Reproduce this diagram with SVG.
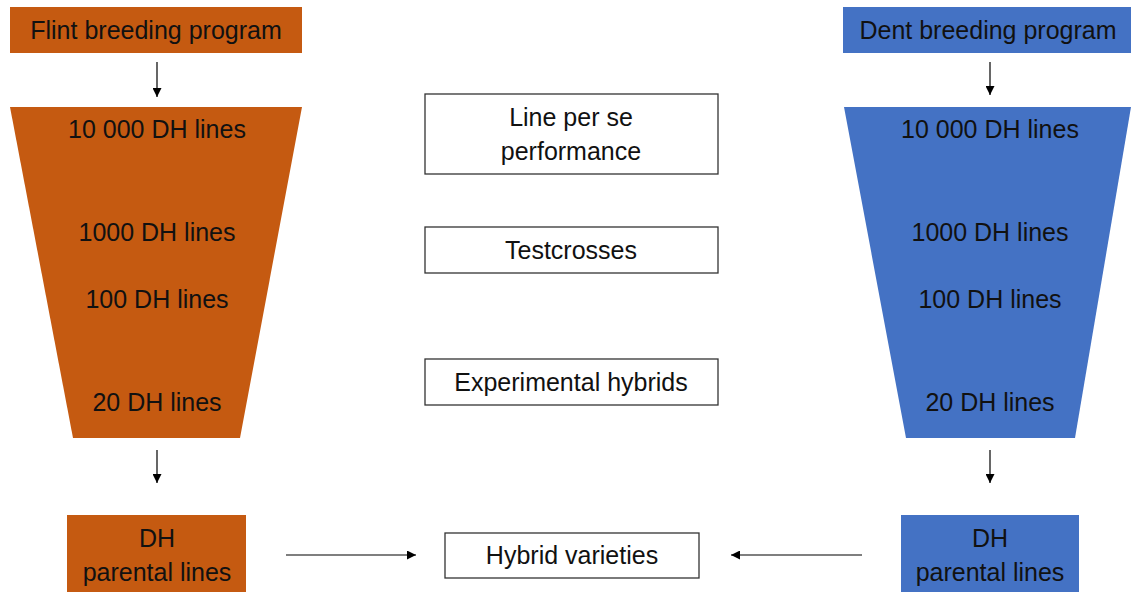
<svg xmlns="http://www.w3.org/2000/svg" width="1131" height="592" viewBox="0 0 1131 592">
<style>
text{font-family:"Liberation Sans",Arial,sans-serif;font-size:25px;fill:#111;text-anchor:middle}
.o{fill:#C55A11}
.b{fill:#4472C4}
.w{fill:#fff;stroke:#333;stroke-width:1.3}
.c{stroke:#000;stroke-width:1.2;fill:none}
</style>
<defs>
<marker id="ah" viewBox="0 0 10 10" refX="10" refY="5" markerWidth="9" markerHeight="9" markerUnits="userSpaceOnUse" orient="auto">
<path d="M0,0 L10,5 L0,10 z" fill="#000"/>
</marker>
</defs>
<rect width="1131" height="592" fill="#fff"/>
<g id="flint-program"><rect class="o" x="10" y="7" width="292" height="46"/><text x="156" y="39">Flint breeding program</text></g>
<g id="dent-program"><rect class="b" x="843" y="7" width="288" height="46"/><text x="988" y="39">Dent breeding program</text></g>
<g id="flint-funnel"><polygon class="o" points="10,107 302,107 240,438 73,438"/>
<text x="157" y="138">10 000 DH lines</text>
<text x="157" y="241">1000 DH lines</text>
<text x="157" y="308">100 DH lines</text>
<text x="157" y="411">20 DH lines</text></g>
<g id="dent-funnel"><polygon class="b" points="844,107 1131,107 1075,438 906,438"/>
<text x="990" y="138">10 000 DH lines</text>
<text x="990" y="241">1000 DH lines</text>
<text x="990" y="308">100 DH lines</text>
<text x="990" y="411">20 DH lines</text></g>
<g id="line-per-se"><rect class="w" x="425" y="94" width="293" height="80"/><text x="571" y="126">Line per se</text><text x="571" y="160">performance</text></g>
<g id="testcrosses"><rect class="w" x="425" y="227" width="293" height="46"/><text x="571" y="259">Testcrosses</text></g>
<g id="experimental"><rect class="w" x="425" y="359" width="293" height="46"/><text x="571" y="391">Experimental hybrids</text></g>
<g id="flint-parental"><rect class="o" x="67" y="515" width="179" height="80"/><text x="157" y="547">DH</text><text x="157" y="581">parental lines</text></g>
<g id="dent-parental"><rect class="b" x="901" y="515" width="178" height="80"/><text x="990" y="547">DH</text><text x="990" y="581">parental lines</text></g>
<g id="hybrid-varieties"><rect class="w" x="445" y="533" width="254" height="45"/><text x="572" y="564">Hybrid varieties</text></g>
<g id="connectors">
<line class="c" x1="157" y1="62" x2="157" y2="97" marker-end="url(#ah)"/>
<line class="c" x1="990" y1="62" x2="990" y2="95" marker-end="url(#ah)"/>
<line class="c" x1="157" y1="450" x2="157" y2="483" marker-end="url(#ah)"/>
<line class="c" x1="990" y1="450" x2="990" y2="483" marker-end="url(#ah)"/>
<line class="c" x1="286" y1="555" x2="416" y2="555" marker-end="url(#ah)"/>
<line class="c" x1="862" y1="555" x2="731" y2="555" marker-end="url(#ah)"/>
</g>
</svg>
